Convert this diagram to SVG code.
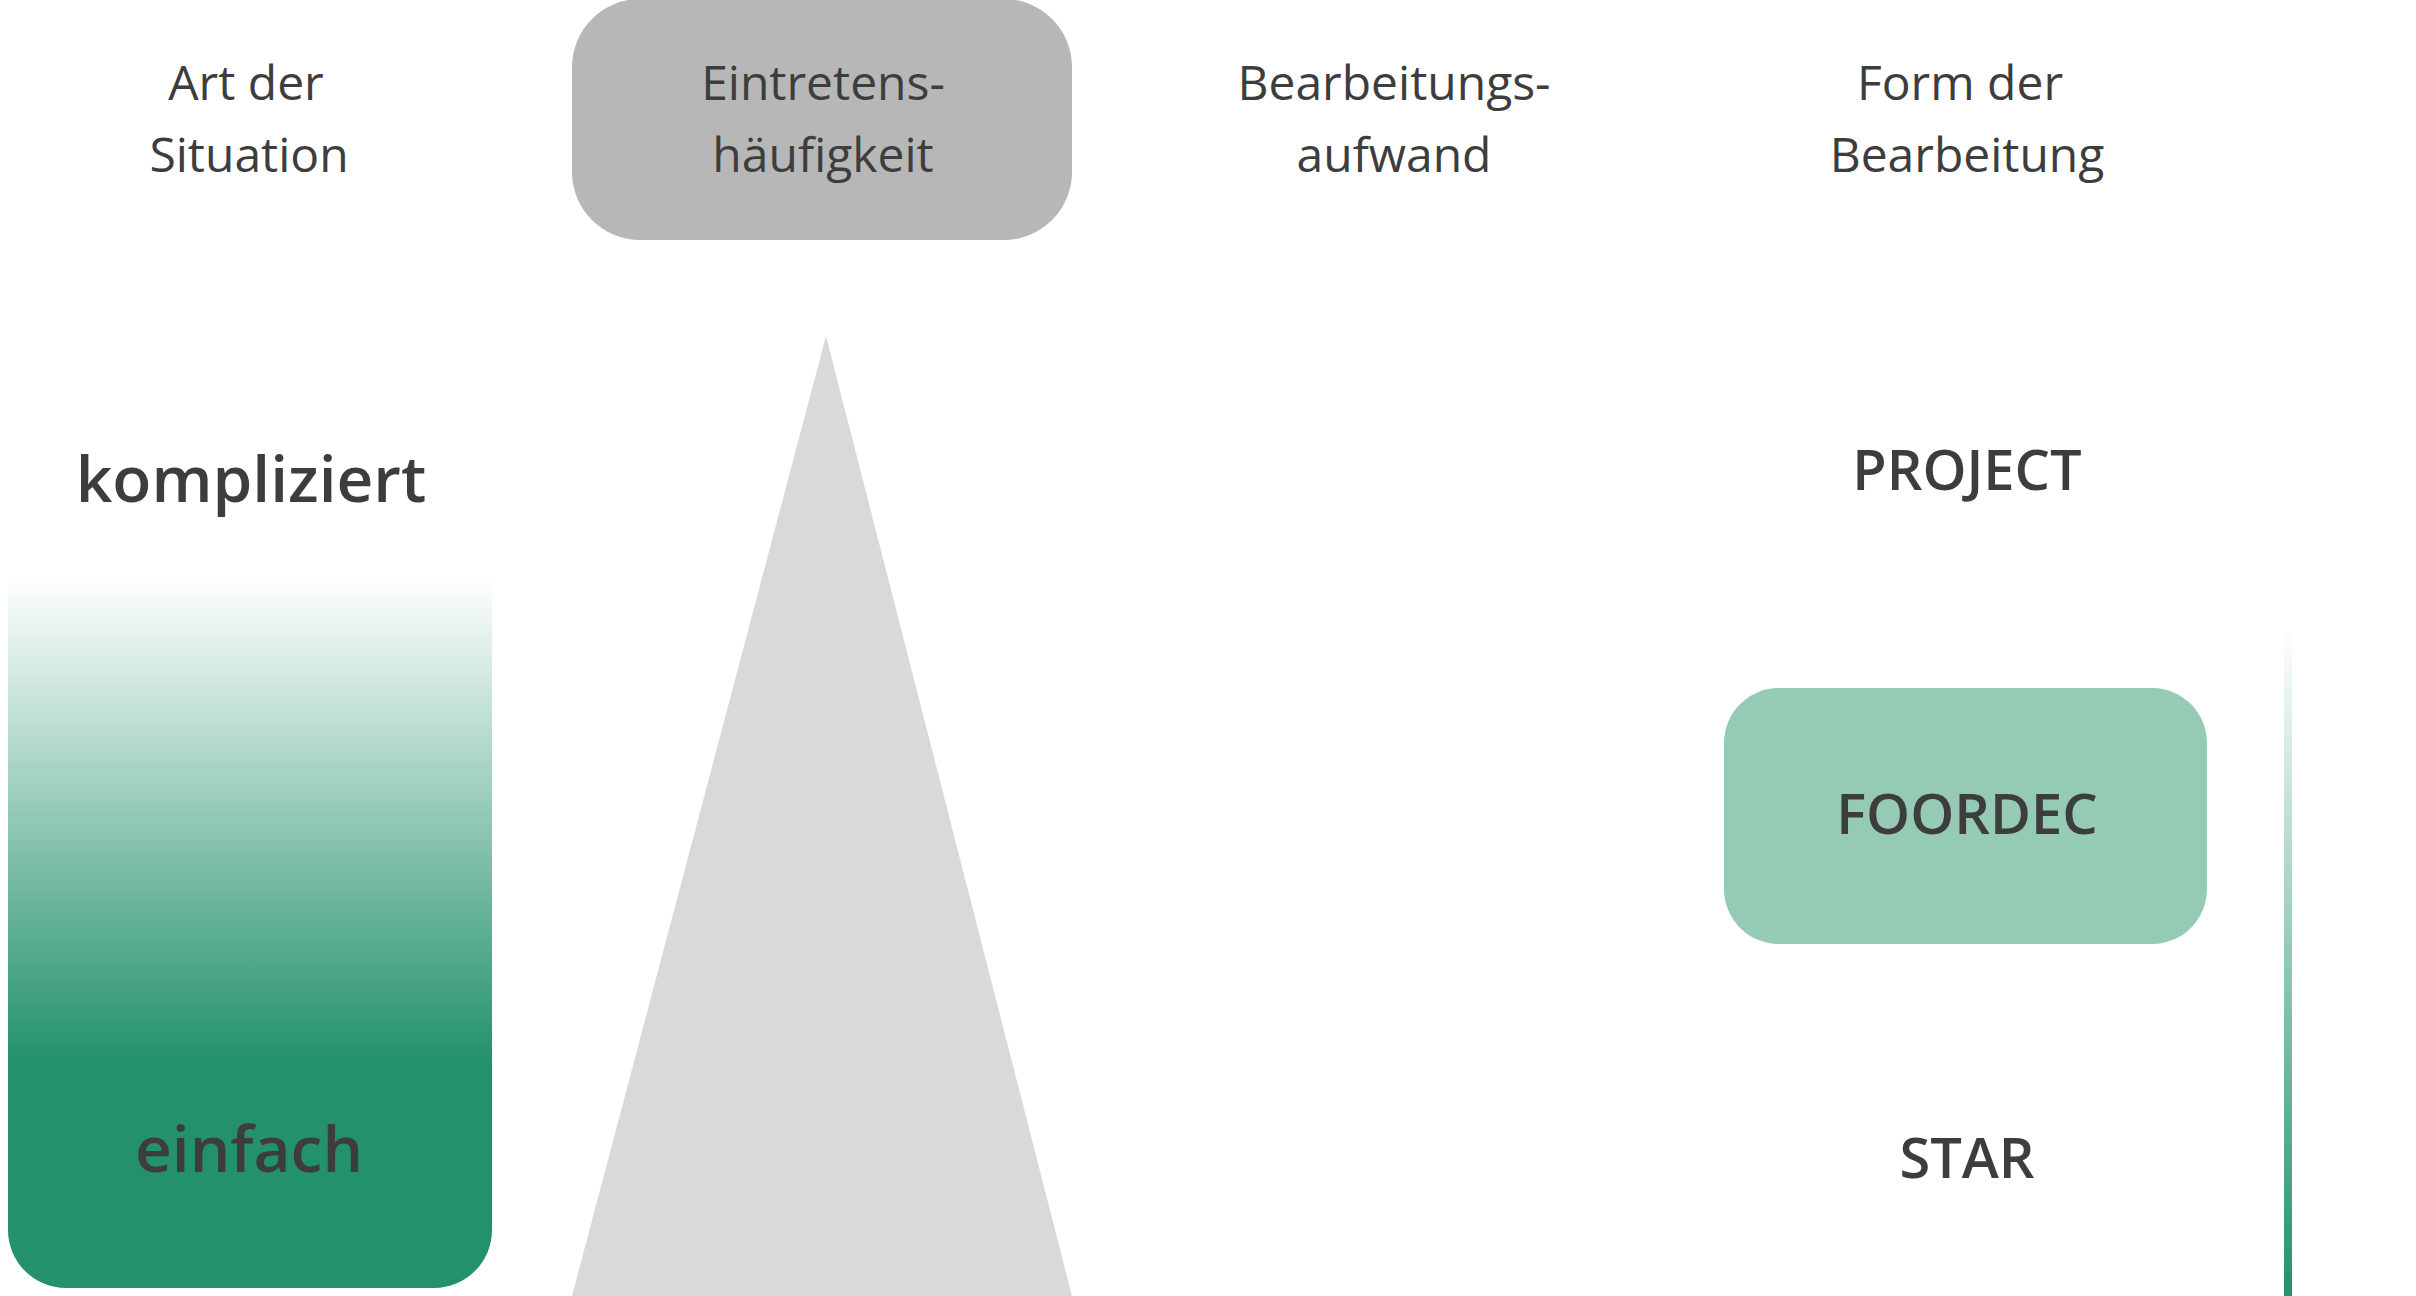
<svg xmlns="http://www.w3.org/2000/svg" width="2416" height="1296" viewBox="0 0 2416 1296">
  <style>
    text { font-family: "Open Sans", "Liberation Sans", sans-serif; fill: #3d3d3d; text-anchor: middle; }
    .head { font-size: 48px; font-weight: 400; }
    .big { font-size: 64px; font-weight: 600; }
    .form { font-size: 56px; font-weight: 600; }
  </style>
  <defs>
    <linearGradient id="gBox" x1="0" y1="577" x2="0" y2="1288" gradientUnits="userSpaceOnUse">
      <stop offset="0" stop-color="#ffffff"/>
      <stop offset="0.68" stop-color="#23926a"/>
      <stop offset="1" stop-color="#23926a"/>
    </linearGradient>
    <linearGradient id="gLine" x1="0" y1="626" x2="0" y2="1296" gradientUnits="userSpaceOnUse">
      <stop offset="0" stop-color="#ffffff"/>
      <stop offset="1" stop-color="#23926a"/>
    </linearGradient>
  </defs>

  <g id="col-art">
    <text class="head" x="246" y="100">Art der</text>
    <text class="head" x="249" y="172">Situation</text>
  </g>

  <g id="col-haeufigkeit">
    <rect x="572" y="-1" width="500" height="241" rx="68" ry="68" fill="#b7b7b7"/>
    <text class="head" x="823" y="100">Eintretens-</text>
    <text class="head" x="823" y="172">häufigkeit</text>
  </g>

  <g id="col-aufwand">
    <text class="head" x="1394" y="100">Bearbeitungs-</text>
    <text class="head" x="1394" y="172">aufwand</text>
  </g>

  <g id="col-form">
    <text class="head" x="1960" y="100">Form der</text>
    <text class="head" x="1967" y="172">Bearbeitung</text>
  </g>

  <g id="situation-bar">
    <path d="M8 577 H492 V1230 A58 58 0 0 1 434 1288 H66 A58 58 0 0 1 8 1230 Z" fill="url(#gBox)"/>
    <text class="big" x="251" y="502">kompliziert</text>
    <text class="big" x="249" y="1172">einfach</text>
  </g>

  <g id="frequency-triangle">
    <polygon points="826,336 1072,1296 572,1296" fill="#d9d9d9"/>
  </g>

  <g id="project">
    <text class="form" x="1967" y="490">PROJECT</text>
  </g>

  <g id="foordec">
    <rect x="1724" y="688" width="483" height="256" rx="55" ry="55" fill="#95cbb5"/>
    <text class="form" x="1967" y="834">FOORDEC</text>
  </g>

  <g id="star">
    <text class="form" x="1967" y="1178">STAR</text>
  </g>

  <g id="connectors">
    <rect x="2284" y="626" width="8" height="670" fill="url(#gLine)"/>
  </g>
</svg>
